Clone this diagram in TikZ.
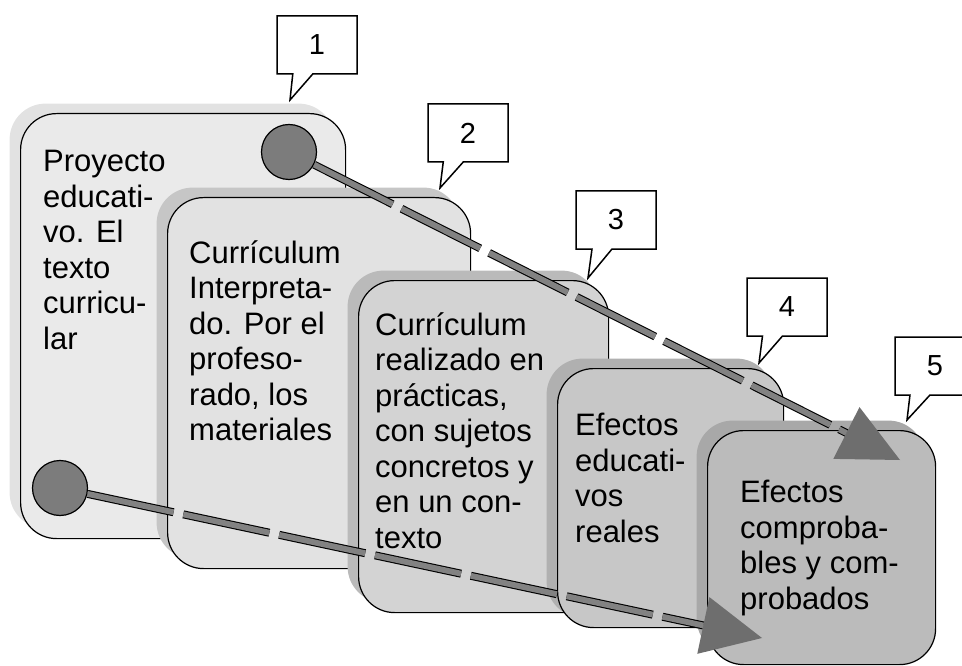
\documentclass[tikz,border=0pt]{standalone}
\usepackage{fontspec}
\setmainfont{Liberation Sans}
\usetikzlibrary{arrows.meta,shapes.callouts,shadows,positioning}

\definecolor{fillA}{HTML}{EAEAEA}
\definecolor{fillB}{HTML}{E2E2E2}
\definecolor{fillC}{HTML}{D3D3D3}
\definecolor{fillD}{HTML}{C7C7C7}
\definecolor{fillE}{HTML}{BBBBBB}
\definecolor{shadeA}{HTML}{E2E2E2}
\definecolor{shadeB}{HTML}{C6C6C6}
\definecolor{shadeC}{HTML}{BABABA}
\definecolor{shadeD}{HTML}{B0B0B0}
\definecolor{shadeE}{HTML}{A8A8A8}
\definecolor{bargray}{HTML}{828282}
\definecolor{tipgray}{HTML}{6E6E6E}
\definecolor{dotgray}{HTML}{7C7C7C}

\begin{document}
\begin{tikzpicture}[x=1pt,y=-1pt,
    card/.style={draw,line width=1.2pt,rounded corners=36pt,anchor=north west,
                 inner sep=0pt,fill=#1},
    shade/.style={general shadow={fill=#1,shadow xshift=-11pt,shadow yshift=10pt}},
    card text/.style={align=left,inner sep=0pt,font=\fontsize{31}{35.5}\selectfont},
    call out/.style={rectangle callout,draw,line width=1.5pt,fill=white,
                     minimum width=80pt,minimum height=58pt,callout pointer width=20pt,
                     font=\fontsize{29}{30}\selectfont},
    dot/.style={circle,draw,line width=1.2pt,fill=dotgray,minimum size=55pt,inner sep=0pt},
    bar/.style={line width=8pt,dash pattern=on 88pt off 10pt,
                -{Triangle[length=60pt,width=58pt,color=tipgray,line width=0pt]}},
    bar inner/.style={line width=5.8pt,draw=bargray,dash pattern=on 88pt off 10pt,
                      shorten >=60pt}]
    \useasboundingbox (0,0) rectangle (962,666);

    % cards
    \node[card=fillA,shade=shadeA,minimum width=325pt,minimum height=425pt] (1) at (20,113) {};
    \node[card text,below right=37pt and 23pt of 1.north west]
        {Proyecto\\educati-\\vo. El\\texto\\curricu-\\lar};
    \node[card=fillB,shade=shadeB,minimum width=303pt,minimum height=371pt] (2) at (167,197) {};
    \node[card text,below right=43pt and 22pt of 2.north west]
        {Currículum\\Interpreta-\\do. Por el\\profeso-\\rado, los\\materiales};
    \node[card=fillC,shade=shadeC,minimum width=250pt,minimum height=332pt] (3) at (358,280) {};
    \node[card text,below right=32pt and 17pt of 3.north west]
        {Currículum\\realizado en\\prácticas,\\con sujetos\\concretos y\\en un con-\\texto};
    \node[card=fillD,shade=shadeD,minimum width=226pt,minimum height=259pt] (4) at (557,368) {};
    \node[card text,below right=45pt and 18pt of 4.north west]
        {Efectos\\educati-\\vos\\reales};
    \node[card=fillE,shade=shadeE,minimum width=228pt,minimum height=234pt] (5) at (707,430) {};
    \node[card text,below right=50pt and 33pt of 5.north west]
        {Efectos\\comproba-\\bles y com-\\probados};

    % numbered callouts
    \node[call out,callout absolute pointer={(290,100)}] (n1) at (317,45) {1};
    \node[call out,callout absolute pointer={(440,188)}] (n2) at (468,133) {2};
    \node[call out,callout absolute pointer={(588,278)}] (n3) at (616,220) {3};
    \node[call out,callout absolute pointer={(759,363)}] (n4) at (787,307) {4};
    \node[call out,callout absolute pointer={(907,420)}] (n5) at (935,366) {5};

    % dashed bars
    \node[dot] (a) at (289,152) {};
    \node[dot] (b) at (60,488) {};
    \coordinate (ta) at (900,460);
    \coordinate (tb) at (762,638);
    \draw[bar] (a) -- (ta);
    \draw[bar inner] (a) -- (ta);
    \draw[bar] (b) -- (tb);
    \draw[bar inner] (b) -- (tb);
\end{tikzpicture}
\end{document}
